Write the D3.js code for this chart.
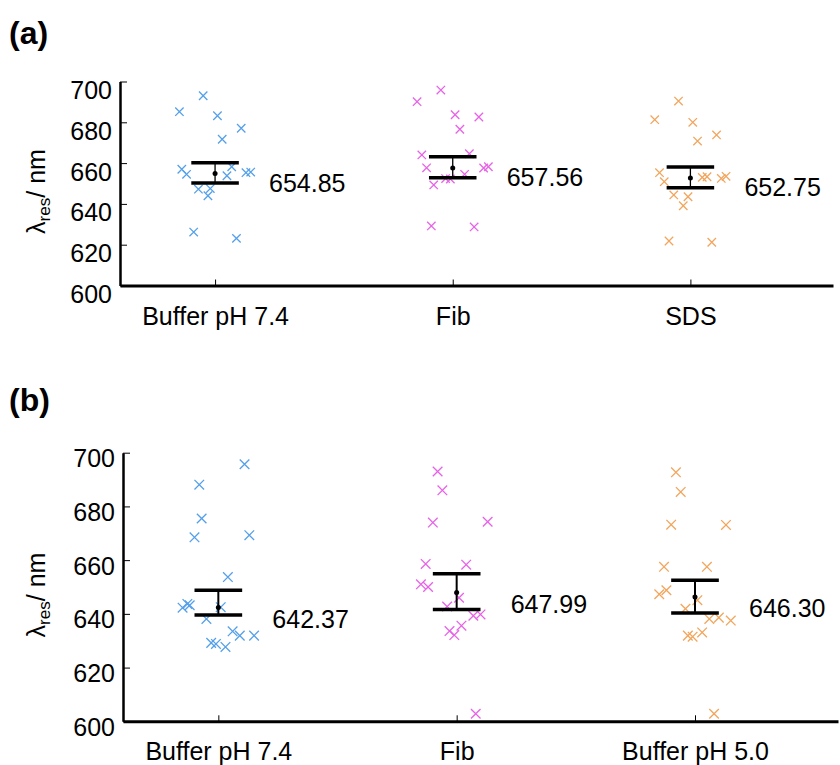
<!DOCTYPE html>
<html>
<head>
<meta charset="utf-8">
<script src="https://cdn.jsdelivr.net/npm/d3@7"></script>
<style>
  body { margin: 0; background: white; }
  svg { display: block; }
</style>
</head>
<body>
<svg id="svgContainer" width="840" height="765"></svg>
<script>
// ---- data ----
const categoriesA = ["Buffer pH 7.4", "Fib", "SDS"];
const categoriesB = ["Buffer pH 7.4", "Fib", "Buffer pH 5.0"];
const yTicks = [600, 620, 640, 660, 680, 700];

// panel (a): jitter (category units) and resonance wavelength (nm)
const jitterA1 = [-0.15, -0.05, 0.01, 0.11, 0.03, -0.14, -0.12, 0.07, 0.05, 0.13, 0.15, -0.07, -0.02, -0.03, -0.09, 0.09];
const valuesA1 = [685.2, 693.0, 683.2, 677.1, 671.7, 657.0, 654.5, 658.2, 653.8, 655.3, 655.6, 647.2, 647.5, 644.0, 626.2, 623.1];
const jitterA2 = [-0.05, -0.15, 0.01, 0.11, 0.03, -0.13, 0.07, -0.11, 0.13, 0.15, 0.05, -0.03, -0.01, -0.08, -0.09, 0.09];
const valuesA2 = [695.8, 690.1, 683.7, 682.6, 676.6, 664.0, 664.6, 657.7, 657.6, 658.2, 654.5, 652.4, 652.2, 649.3, 629.2, 628.7];
const jitterA3 = [-0.05, -0.15, 0.01, 0.11, 0.03, -0.13, -0.11, 0.05, 0.07, 0.13, 0.15, -0.07, -0.01, -0.03, -0.09, 0.09];
const valuesA3 = [690.4, 681.3, 680.0, 673.8, 670.8, 655.3, 650.9, 653.0, 653.3, 652.5, 653.5, 644.4, 643.5, 639.1, 621.8, 621.2];

const meansA = [654.85, 657.56, 652.75];
const errLowA = [650.2, 652.8, 647.9];
const errHighA = [660.2, 663.1, 658.1];

// panel (b)
const jitterB1 = [0.11, -0.08, -0.07, -0.10, 0.13, 0.04, -0.15, -0.13, -0.12, 0.01, -0.05, 0.06, 0.09, 0.15, -0.03, -0.01, 0.03];
const valuesB1 = [695.7, 688.1, 675.5, 668.5, 669.3, 653.7, 642.3, 643.7, 643.2, 642.5, 638.1, 633.5, 631.9, 631.9, 629.2, 628.8, 627.7];
const jitterB2 = [-0.08, -0.06, -0.10, 0.13, -0.13, 0.04, -0.15, -0.12, 0.01, -0.04, 0.07, 0.10, 0.02, -0.03, -0.01, 0.08];
const valuesB2 = [693.0, 686.0, 674.0, 674.3, 658.6, 658.3, 651.0, 650.0, 646.0, 642.7, 639.3, 639.8, 635.6, 633.6, 632.1, 602.8];
const jitterB3 = [-0.08, -0.06, -0.10, 0.13, -0.13, 0.05, -0.15, -0.12, 0.01, -0.04, 0.06, 0.10, 0.15, 0.03, -0.03, -0.01, 0.08];
const valuesB3 = [692.7, 685.4, 673.2, 673.1, 657.5, 657.5, 647.3, 648.8, 645.1, 641.9, 638.1, 638.6, 637.5, 633.1, 631.9, 631.5, 602.8];

const meansB = [642.37, 647.99, 646.30];
const errLowB = [639.6, 641.6, 640.3];
const errHighB = [648.8, 654.9, 652.5];

// ---- drawing ----
const svg = d3.select("#svgContainer");
const width = 840;
const height = 765;
const font = "'Liberation Sans', Arial, sans-serif";
const colors = ["#55a0ea", "#e862e8", "#f2a55c"];

svg.append("rect")
    .attr("width", width)
    .attr("height", height)
    .attr("fill", "white");

function drawPanel(p) {
    const x = d3.scaleLinear().domain([0.6, 3.6]).range([p.left, p.right]);
    const y = d3.scaleLinear().domain([600, 700]).range([p.bottom, p.top]);
    const g = svg.append("g");

    // y axis (ticks point inward)
    const yAxis = g.append("g")
        .attr("transform", `translate(${p.left},0)`)
        .call(d3.axisLeft(y).tickValues(yTicks).tickSize(-7).tickSizeOuter(0).tickPadding(8));
    yAxis.select(".domain").attr("stroke-width", 2.5);
    yAxis.selectAll(".tick line").attr("stroke-width", 1);
    yAxis.selectAll(".tick text")
        .attr("dy", p.tickDy)
        .attr("font-size", "25px")
        .attr("font-family", font)
        .attr("fill", "black");

    // x axis
    const xAxis = g.append("g")
        .attr("transform", `translate(0,${p.bottom})`)
        .call(d3.axisBottom(x).tickValues([1, 2, 3]).tickFormat(d => p.cats[d - 1]).tickSize(-6).tickSizeOuter(0));
    xAxis.select(".domain").attr("stroke-width", 3);
    xAxis.selectAll(".tick line").attr("stroke-width", 1);
    xAxis.selectAll(".tick text")
        .attr("y", 39)
        .attr("dy", 0)
        .attr("font-size", "25px")
        .attr("font-family", font)
        .attr("fill", "black");

    // scatter crosses
    p.groups.forEach((grp, i) => {
        const pts = grp.values.map((v, k) => ({ xv: i + 1 + grp.jitter[k], v: v }));
        g.selectAll(`.cross-${i}`)
            .data(pts)
            .enter()
            .append("path")
            .attr("class", `cross-${i}`)
            .attr("d", d => {
                const cx = x(d.xv), cy = y(d.v), s = p.cross;
                return `M${cx - s},${cy - s}L${cx + s},${cy + s}M${cx - s},${cy + s}L${cx + s},${cy - s}`;
            })
            .attr("stroke", colors[i])
            .attr("stroke-width", 1.3)
            .attr("fill", "none");
    });

    // error bars + mean
    p.means.forEach((m, i) => {
        const cx = x(i + 1);
        g.append("line")
            .attr("x1", cx).attr("x2", cx)
            .attr("y1", y(p.hi[i])).attr("y2", y(p.lo[i]))
            .attr("stroke", "black")
            .attr("stroke-width", p.stem);
        [p.hi[i], p.lo[i]].forEach(v => {
            g.append("line")
                .attr("x1", x(i + 1 - 0.1)).attr("x2", x(i + 1 + 0.1))
                .attr("y1", y(v)).attr("y2", y(v))
                .attr("stroke", "black")
                .attr("stroke-width", 3.5);
        });
        g.append("circle")
            .attr("cx", cx)
            .attr("cy", y(m))
            .attr("r", 2.5)
            .attr("fill", "black");
        // value label
        g.append("text")
            .attr("x", cx + 54)
            .attr("y", y(m) + p.labelDy)
            .attr("font-size", "25px")
            .attr("font-family", font)
            .attr("fill", "black")
            .text(m.toFixed(2));
    });

    // y axis title
    const title = g.append("text")
        .attr("transform", `translate(45,${(p.top + p.bottom) / 2 + 8}) rotate(-90)`)
        .attr("text-anchor", "middle")
        .attr("font-size", "25px")
        .attr("font-family", font)
        .attr("fill", "black");
    title.append("tspan").text("\u03bb");
    title.append("tspan").attr("font-size", "17px").attr("dy", 5).text("res");
    title.append("tspan").attr("dy", -5).text("/ nm");

    // panel letter
    g.append("text")
        .attr("x", 9)
        .attr("y", p.letterY)
        .attr("font-size", "32px")
        .attr("font-weight", "bold")
        .attr("font-family", font)
        .attr("fill", "black")
        .text(p.letter);
}

drawPanel({
    letter: "(a)", letterY: 44,
    left: 120, right: 833, top: 81.5, bottom: 285.5,
    cats: categoriesA, tickDy: "0.68em", labelDy: 18, cross: 4.2, stem: 1.3,
    groups: [
        { jitter: jitterA1, values: valuesA1 },
        { jitter: jitterA2, values: valuesA2 },
        { jitter: jitterA3, values: valuesA3 }
    ],
    means: meansA, lo: errLowA, hi: errHighA
});

drawPanel({
    letter: "(b)", letterY: 411,
    left: 123, right: 838, top: 452.7, bottom: 721.3,
    cats: categoriesB, tickDy: "0.56em", labelDy: 20.5, cross: 4.8, stem: 2,
    groups: [
        { jitter: jitterB1, values: valuesB1 },
        { jitter: jitterB2, values: valuesB2 },
        { jitter: jitterB3, values: valuesB3 }
    ],
    means: meansB, lo: errLowB, hi: errHighB
});
</script>
</body>
</html>
